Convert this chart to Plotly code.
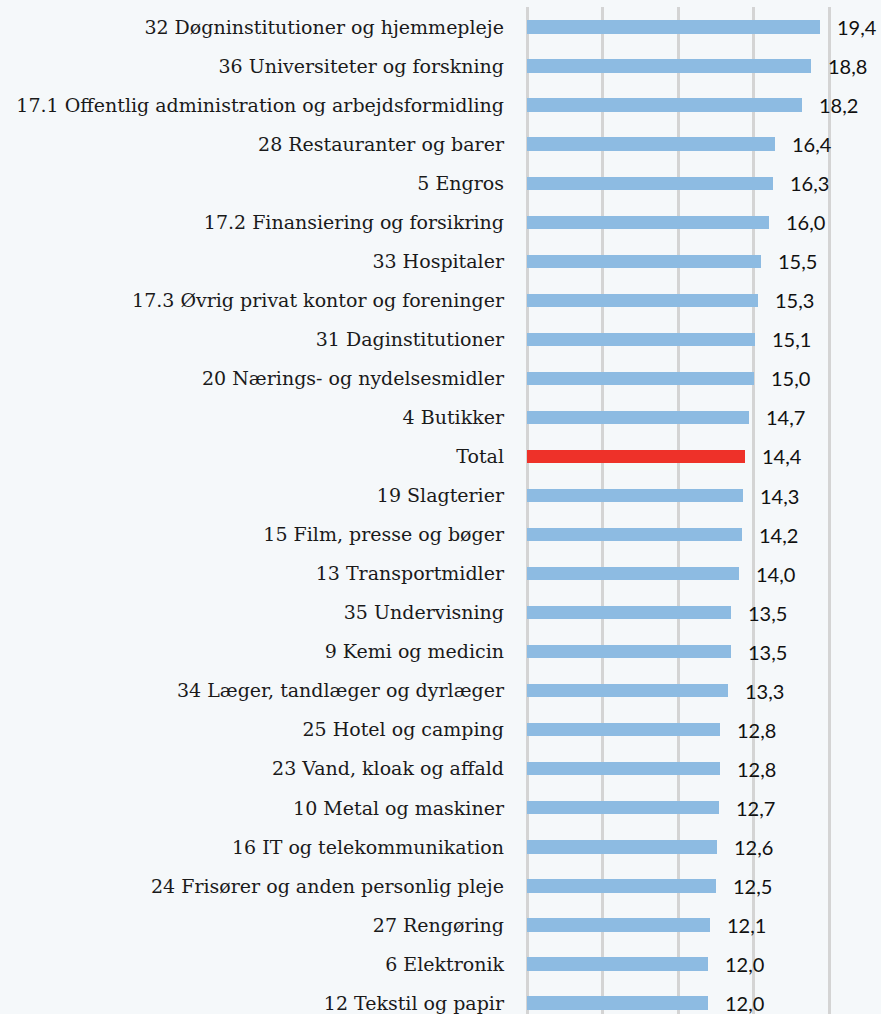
import plotly.graph_objects as go

categories = [
    "32 Døgninstitutioner og hjemmepleje",
    "36 Universiteter og forskning",
    "17.1 Offentlig administration og arbejdsformidling",
    "28 Restauranter og barer",
    "5 Engros",
    "17.2 Finansiering og forsikring",
    "33 Hospitaler",
    "17.3 Øvrig privat kontor og foreninger",
    "31 Daginstitutioner",
    "20 Nærings- og nydelsesmidler",
    "4 Butikker",
    "Total",
    "19 Slagterier",
    "15 Film, presse og bøger",
    "13 Transportmidler",
    "35 Undervisning",
    "9 Kemi og medicin",
    "34 Læger, tandlæger og dyrlæger",
    "25 Hotel og camping",
    "23 Vand, kloak og affald",
    "10 Metal og maskiner",
    "16 IT og telekommunikation",
    "24 Frisører og anden personlig pleje",
    "27 Rengøring",
    "6 Elektronik",
    "12 Tekstil og papir",
]
values = [19.4, 18.8, 18.2, 16.4, 16.3, 16.0, 15.5, 15.3, 15.1, 15.0, 14.7, 14.4,
          14.3, 14.2, 14.0, 13.5, 13.5, 13.3, 12.8, 12.8, 12.7, 12.6, 12.5, 12.1,
          12.0, 12.0]
x_ticks = [0, 5, 10, 15, 20]

BLUE = "#8DBBE2"
RED = "#EE3129"
BG = "#F5F8FA"
colors = [RED if c == "Total" else BLUE for c in categories]

fig = go.Figure()
fig.add_trace(go.Bar(
    x=values, y=categories, orientation="h",
    marker=dict(color=colors, line=dict(width=0)),
    width=0.34, hoverinfo="skip",
))

for c, v in zip(categories, values):
    fig.add_annotation(
        x=v, y=c, xref="x", yref="y",
        text=f"{v:.1f}".replace(".", ","),
        showarrow=False, xanchor="left", yanchor="middle", xshift=15,
        font=dict(family="Lato", size=20, color="#111111"),
    )

fig.update_layout(
    width=881, height=1014,
    margin=dict(l=524, r=0, t=7, b=0, autoexpand=False),
    paper_bgcolor=BG, plot_bgcolor=BG,
    showlegend=False,
    separators=",.",
    bargap=0,
)
fig.update_xaxes(
    range=[-0.2, 23.42], tickvals=x_ticks, showticklabels=False,
    showgrid=True, gridcolor="#D4D4D4", gridwidth=3, zeroline=False,
    showline=False, fixedrange=True,
)
fig.update_yaxes(
    type="category", categoryorder="array", categoryarray=categories,
    range=[25.28, -0.512], showgrid=False, zeroline=False, showline=False,
    ticks="", ticklabelstandoff=19,
    tickfont=dict(family="DejaVu Serif", size=19, color="#1A1A1A"),
    automargin=False, fixedrange=True,
)

fig.write_html(
    "out.html",
    config={"displayModeBar": False, "staticPlot": True},
    post_script="document.body.style.margin='0';document.body.style.background='%s';" % BG,
)
